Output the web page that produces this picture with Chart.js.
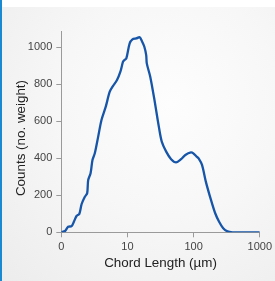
<!DOCTYPE html>
<html lang="en">
<head>
    <meta charset="UTF-8">
    <title>Chord Length Distribution</title>
    <script src="https://cdn.jsdelivr.net/npm/chart.js"></script>
    <style>
        html, body {
            margin: 0;
            padding: 0;
            width: 275px;
            height: 281px;
            overflow: hidden;
            background: white;
        }
        .panel {
            position: absolute;
            left: 0;
            top: 7px;
            width: 275px;
            height: 274px;
            background: radial-gradient(ellipse at 62% 35%, #fdfdfd 0%, #f7f7f7 45%, #ececec 100%);
        }
        .bar {
            position: absolute;
            left: 0;
            top: 0;
            width: 2px;
            height: 281px;
            background: #1b88d2;
        }
        .wrap {
            position: absolute;
            left: 0;
            top: 0;
            width: 275px;
            height: 281px;
        }
    </style>
</head>
<body>
    <div class="panel"></div>
    <div class="bar"></div>
    <div class="wrap"><canvas id="cldChart" width="275" height="281"></canvas></div>
    <script>
        // chord length (µm) and counts
        const chordLength = [1.0, 1.14, 1.27, 1.43, 1.55, 1.70, 1.87, 2.03, 2.27, 2.46, 2.55, 2.77, 2.96, 3.21, 3.61, 4.05, 4.70, 5.40, 6.06, 6.95, 7.82, 8.57, 9.0, 9.62, 10.8, 11.9, 13.6, 15.3, 16.7, 18.0, 19.2, 19.6, 22.1, 25.6, 29.8, 33.0, 38.5, 45.7, 54.3, 64.6, 75, 91.3, 99, 111, 119, 134, 153, 183, 212, 243, 280, 325, 386, 500, 1000];
        const counts = [0, 7, 30, 33, 57, 88, 99, 153, 192, 211, 283, 319, 391, 427, 517, 607, 679, 760, 791, 823, 868, 922, 931, 940, 1021, 1043, 1048, 1054, 1030, 1003, 958, 913, 841, 715, 571, 490, 436, 395, 378, 395, 418, 432, 427, 409, 400, 364, 274, 175, 103, 57, 22, 5, 0, 0, 0];
        const xTicks = [1, 10, 100, 1000];
        const xTickLabels = ['0', '10', '100', '1000'];
        const yTicks = [0, 200, 400, 600, 800, 1000];
        const yTitle = 'Counts (no. weight)';

        const fontFamily = '"Liberation Sans", Arial, sans-serif';
        const axisColor = '#9a9a9a';

        // y title sits a little below the axis centre in the original, so draw it by hand
        const yTitlePlugin = {
            id: 'yTitle',
            afterDraw(chart) {
                const c = chart.ctx;
                c.save();
                c.translate(21, 138);
                c.rotate(-Math.PI / 2);
                c.font = '13.4px ' + fontFamily;
                c.fillStyle = '#222';
                c.textAlign = 'center';
                c.textBaseline = 'middle';
                c.fillText(yTitle, 0, 0);
                c.restore();
            }
        };

        const ctx = document.getElementById('cldChart').getContext('2d');
        const cldChart = new Chart(ctx, {
            type: 'line',
            data: {
                datasets: [{
                    data: chordLength.map((x, i) => ({ x: x, y: counts[i] })),
                    borderColor: '#1655a8',
                    borderWidth: 2.3,
                    pointRadius: 0,
                    tension: 0.3,
                    fill: false
                }]
            },
            options: {
                responsive: false,
                animation: false,
                layout: { padding: { top: 31, right: 14, left: 0, bottom: 0 } },
                scales: {
                    x: {
                        type: 'logarithmic',
                        min: 1,
                        max: 1000,
                        afterBuildTicks: axis => { axis.ticks = xTicks.map(v => ({ value: v })); },
                        afterFit: axis => { axis.height = 48.7; },
                        grid: { drawOnChartArea: false, drawTicks: true, tickLength: 5, color: axisColor },
                        border: { color: axisColor },
                        ticks: {
                            color: '#444',
                            font: { family: fontFamily, size: 11 },
                            padding: 3,
                            maxRotation: 0,
                            autoSkip: false,
                            callback: value => xTickLabels[xTicks.indexOf(value)]
                        },
                        title: {
                            display: true,
                            text: 'Chord Length (µm)',
                            color: '#222',
                            font: { family: fontFamily, size: 13.4 },
                            padding: { top: 4, bottom: 10 }
                        }
                    },
                    y: {
                        min: 0,
                        max: 1088,
                        afterBuildTicks: axis => { axis.ticks = yTicks.map(v => ({ value: v })); },
                        afterFit: axis => { axis.width = 61.3; },
                        grid: { drawOnChartArea: false, drawTicks: true, tickLength: 5, color: axisColor },
                        border: { color: axisColor },
                        ticks: {
                            color: '#444',
                            font: { family: fontFamily, size: 11 },
                            padding: 4,
                            callback: value => String(value)
                        }
                    }
                },
                plugins: { legend: { display: false }, tooltip: { enabled: false } }
            }
        });
        Chart.register(yTitlePlugin);
        cldChart.update();
    </script>
</body>
</html>
